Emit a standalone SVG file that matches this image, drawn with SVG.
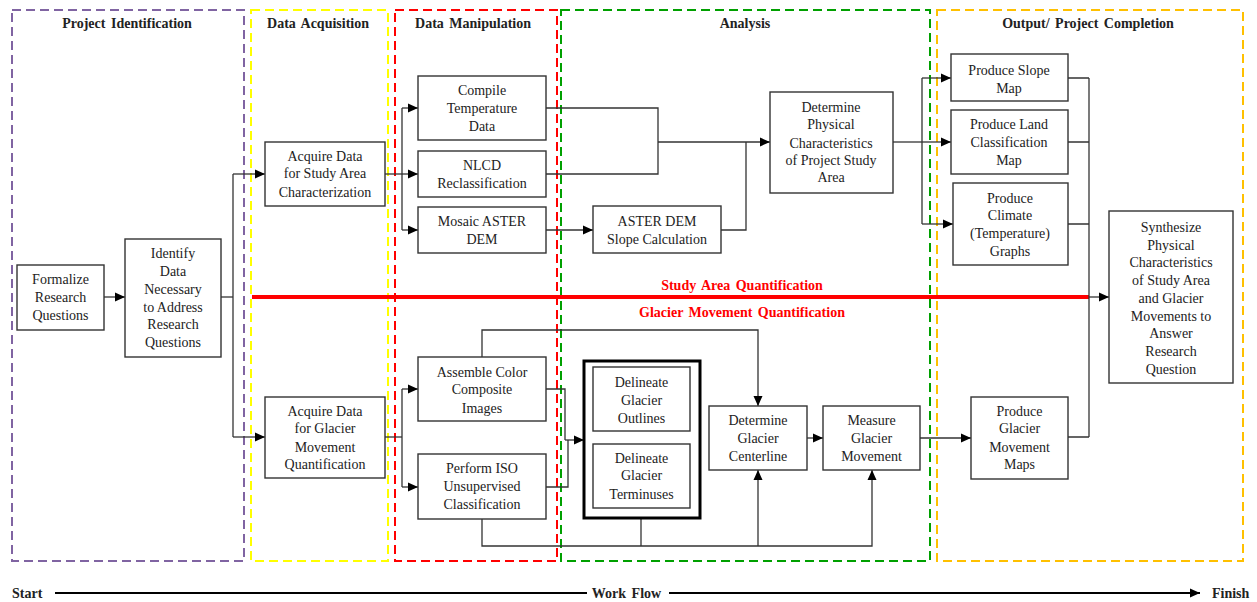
<svg xmlns="http://www.w3.org/2000/svg" width="1257" height="602" viewBox="0 0 1257 602">
<style>
.lane{fill:none;stroke-width:2;stroke-dasharray:9 5}
.box{fill:#fff;stroke:#333;stroke-width:1.4}
.t{font-family:"Liberation Serif","Times New Roman",serif;font-size:14px;fill:#222;text-anchor:middle}
.h{font-family:"Liberation Serif","Times New Roman",serif;font-size:14px;font-weight:bold;fill:#222;text-anchor:middle;word-spacing:2px}
.r{font-family:"Liberation Serif","Times New Roman",serif;font-size:14px;font-weight:bold;fill:#ff0000;text-anchor:middle;word-spacing:2px}
.c{fill:none;stroke:#333;stroke-width:1.3}
</style>
<defs>
<marker id="ah" markerUnits="userSpaceOnUse" markerWidth="10" markerHeight="10" viewBox="0 0 10 10" refX="10" refY="5" orient="auto">
<path d="M0,0.5 L10,5 L0,9.5 Z" fill="#000"/>
</marker>
</defs>
<rect width="1257" height="602" fill="#fff"/>

<g id="lanes">
<rect class="lane" x="12" y="10" width="232" height="551" stroke="#8064A2"/>
<rect class="lane" x="251" y="10" width="137" height="551" stroke="#FFFF00"/>
<rect class="lane" x="395" y="10" width="162" height="551" stroke="#FF0000"/>
<rect class="lane" x="561" y="10" width="369" height="551" stroke="#00A000"/>
<rect class="lane" x="937" y="10" width="306" height="551" stroke="#FFC000"/>
<text class="h" x="127" y="28">Project Identification</text>
<text class="h" x="318" y="28">Data Acquisition</text>
<text class="h" x="473" y="28">Data Manipulation</text>
<text class="h" x="745" y="28">Analysis</text>
<text class="h" x="1088" y="28">Output/ Project Completion</text>
</g>

<g id="quantification">
<line x1="252" y1="297" x2="1089" y2="297" stroke="#FF0000" stroke-width="4"/>
<text class="r" x="742" y="290">Study Area Quantification</text>
<text class="r" x="742" y="317">Glacier Movement Quantification</text>
</g>

<g id="connectors">
<path class="c" d="M104,297 H125" marker-end="url(#ah)"/>
<path class="c" d="M221,297 H233"/>
<path class="c" d="M233,174 V437"/>
<path class="c" d="M233,174 H265" marker-end="url(#ah)"/>
<path class="c" d="M233,437 H265" marker-end="url(#ah)"/>
<path class="c" d="M385,174 H402"/>
<path class="c" d="M402,108 V230"/>
<path class="c" d="M402,108 H418" marker-end="url(#ah)"/>
<path class="c" d="M402,174 H418" marker-end="url(#ah)"/>
<path class="c" d="M402,230 H418" marker-end="url(#ah)"/>
<path class="c" d="M546,108 H658 V174 H546"/>
<path class="c" d="M658,142 H770" marker-end="url(#ah)"/>
<path class="c" d="M546,230 H593" marker-end="url(#ah)"/>
<path class="c" d="M721,230 H746 V142"/>
<path class="c" d="M893,142 H922"/>
<path class="c" d="M922,78 V224"/>
<path class="c" d="M922,78 H951" marker-end="url(#ah)"/>
<path class="c" d="M922,142 H951" marker-end="url(#ah)"/>
<path class="c" d="M922,224 H953" marker-end="url(#ah)"/>
<path class="c" d="M1068,78 H1089 M1068,142 H1089 M1068,224 H1089 M1068,437 H1089"/>
<path class="c" d="M1089,78 V437"/>
<path class="c" d="M1089,297 H1109" marker-end="url(#ah)"/>
<path class="c" d="M385,437 H402"/>
<path class="c" d="M402,389 V487"/>
<path class="c" d="M402,389 H418" marker-end="url(#ah)"/>
<path class="c" d="M402,487 H418" marker-end="url(#ah)"/>
<path class="c" d="M546,389 H565 V440"/>
<path class="c" d="M546,487 H568 V440"/>
<path class="c" d="M565,440 H584" marker-end="url(#ah)"/>
<path class="c" d="M482,357 V330 H758 V406" marker-end="url(#ah)"/>
<path class="c" d="M482,519 V546 H872 V470" marker-end="url(#ah)"/>
<path class="c" d="M641,518 V546"/>
<path class="c" d="M758,546 V470" marker-end="url(#ah)"/>
<path class="c" d="M807,438 H823" marker-end="url(#ah)"/>
<path class="c" d="M920,438 H971" marker-end="url(#ah)"/>
</g>

<g id="n-formalize">
<rect class="box" x="17" y="265" width="87" height="65"/>
<text class="t" x="60.5" y="284">Formalize</text>
<text class="t" x="60.5" y="302">Research</text>
<text class="t" x="60.5" y="320">Questions</text>
</g>
<g id="n-identify">
<rect class="box" x="125" y="239" width="96" height="118"/>
<text class="t" x="173" y="258">Identify</text>
<text class="t" x="173" y="276">Data</text>
<text class="t" x="173" y="294">Necessary</text>
<text class="t" x="173" y="312">to Address</text>
<text class="t" x="173" y="329">Research</text>
<text class="t" x="173" y="347">Questions</text>
</g>
<g id="n-acq-study">
<rect class="box" x="265" y="142" width="120" height="64"/>
<text class="t" x="325" y="161">Acquire Data</text>
<text class="t" x="325" y="178">for Study Area</text>
<text class="t" x="325" y="197">Characterization</text>
</g>
<g id="n-acq-glacier">
<rect class="box" x="265" y="397" width="120" height="81"/>
<text class="t" x="325" y="416">Acquire Data</text>
<text class="t" x="325" y="433">for Glacier</text>
<text class="t" x="325" y="452">Movement</text>
<text class="t" x="325" y="469">Quantification</text>
</g>
<g id="n-compile">
<rect class="box" x="418" y="76" width="128" height="64"/>
<text class="t" x="482" y="95">Compile</text>
<text class="t" x="482" y="113">Temperature</text>
<text class="t" x="482" y="131">Data</text>
</g>
<g id="n-nlcd">
<rect class="box" x="418" y="151" width="128" height="46"/>
<text class="t" x="482" y="170">NLCD</text>
<text class="t" x="482" y="188">Reclassification</text>
</g>
<g id="n-mosaic">
<rect class="box" x="418" y="207" width="128" height="46"/>
<text class="t" x="482" y="226">Mosaic ASTER</text>
<text class="t" x="482" y="244">DEM</text>
</g>
<g id="n-slope-calc">
<rect class="box" x="593" y="206" width="128" height="47"/>
<text class="t" x="657" y="226">ASTER DEM</text>
<text class="t" x="657" y="244">Slope Calculation</text>
</g>
<g id="n-determine-physical">
<rect class="box" x="770" y="92" width="123" height="101"/>
<text class="t" x="831" y="112">Determine</text>
<text class="t" x="831" y="129">Physical</text>
<text class="t" x="831" y="148">Characteristics</text>
<text class="t" x="831" y="165">of Project Study</text>
<text class="t" x="831" y="182">Area</text>
</g>
<g id="n-slope-map">
<rect class="box" x="951" y="54" width="117" height="47"/>
<text class="t" x="1009" y="75">Produce Slope</text>
<text class="t" x="1009" y="93">Map</text>
</g>
<g id="n-land-map">
<rect class="box" x="951" y="110" width="117" height="64"/>
<text class="t" x="1009" y="129">Produce Land</text>
<text class="t" x="1009" y="147">Classification</text>
<text class="t" x="1009" y="165">Map</text>
</g>
<g id="n-climate">
<rect class="box" x="953" y="183" width="115" height="82"/>
<text class="t" x="1010" y="203">Produce</text>
<text class="t" x="1010" y="220">Climate</text>
<text class="t" x="1010" y="238">(Temperature)</text>
<text class="t" x="1010" y="256">Graphs</text>
</g>
<g id="n-synthesize">
<rect class="box" x="1109" y="211" width="124" height="172"/>
<text class="t" x="1171" y="232">Synthesize</text>
<text class="t" x="1171" y="249.7">Physical</text>
<text class="t" x="1171" y="267.4">Characteristics</text>
<text class="t" x="1171" y="285.1">of Study Area</text>
<text class="t" x="1171" y="302.8">and Glacier</text>
<text class="t" x="1171" y="320.5">Movements to</text>
<text class="t" x="1171" y="338.2">Answer</text>
<text class="t" x="1171" y="355.9">Research</text>
<text class="t" x="1171" y="373.6">Question</text>
</g>
<g id="n-assemble">
<rect class="box" x="418" y="357" width="128" height="64"/>
<text class="t" x="482" y="377">Assemble Color</text>
<text class="t" x="482" y="394">Composite</text>
<text class="t" x="482" y="413">Images</text>
</g>
<g id="n-iso">
<rect class="box" x="418" y="454" width="128" height="65"/>
<text class="t" x="482" y="473">Perform ISO</text>
<text class="t" x="482" y="491">Unsupervised</text>
<text class="t" x="482" y="509">Classification</text>
</g>
<g id="n-delineate-group">
<rect x="584" y="361" width="116" height="157" fill="#fff" stroke="#000" stroke-width="3"/>
</g>
<g id="n-outlines">
<rect class="box" x="593" y="367" width="97" height="64"/>
<text class="t" x="641.5" y="387">Delineate</text>
<text class="t" x="641.5" y="405">Glacier</text>
<text class="t" x="641.5" y="423">Outlines</text>
</g>
<g id="n-terminuses">
<rect class="box" x="593" y="444" width="97" height="64"/>
<text class="t" x="641.5" y="463">Delineate</text>
<text class="t" x="641.5" y="480">Glacier</text>
<text class="t" x="641.5" y="499">Terminuses</text>
</g>
<g id="n-centerline">
<rect class="box" x="709" y="406" width="98" height="64"/>
<text class="t" x="758" y="425">Determine</text>
<text class="t" x="758" y="443">Glacier</text>
<text class="t" x="758" y="461">Centerline</text>
</g>
<g id="n-measure">
<rect class="box" x="823" y="406" width="97" height="64"/>
<text class="t" x="871.5" y="425">Measure</text>
<text class="t" x="871.5" y="443">Glacier</text>
<text class="t" x="871.5" y="461">Movement</text>
</g>
<g id="n-glacier-maps">
<rect class="box" x="971" y="397" width="97" height="82"/>
<text class="t" x="1019.5" y="416">Produce</text>
<text class="t" x="1019.5" y="433">Glacier</text>
<text class="t" x="1019.5" y="452">Movement</text>
<text class="t" x="1019.5" y="469">Maps</text>
</g>

<g id="workflow">
<text class="h" x="12" y="598" style="text-anchor:start">Start</text>
<line x1="55" y1="593" x2="587" y2="593" stroke="#000" stroke-width="2"/>
<text class="h" x="626.5" y="598">Work Flow</text>
<line x1="669" y1="593" x2="1200" y2="593" stroke="#000" stroke-width="2" marker-end="url(#ah)"/>
<text class="h" x="1212" y="598" style="text-anchor:start">Finish</text>
</g>
</svg>
